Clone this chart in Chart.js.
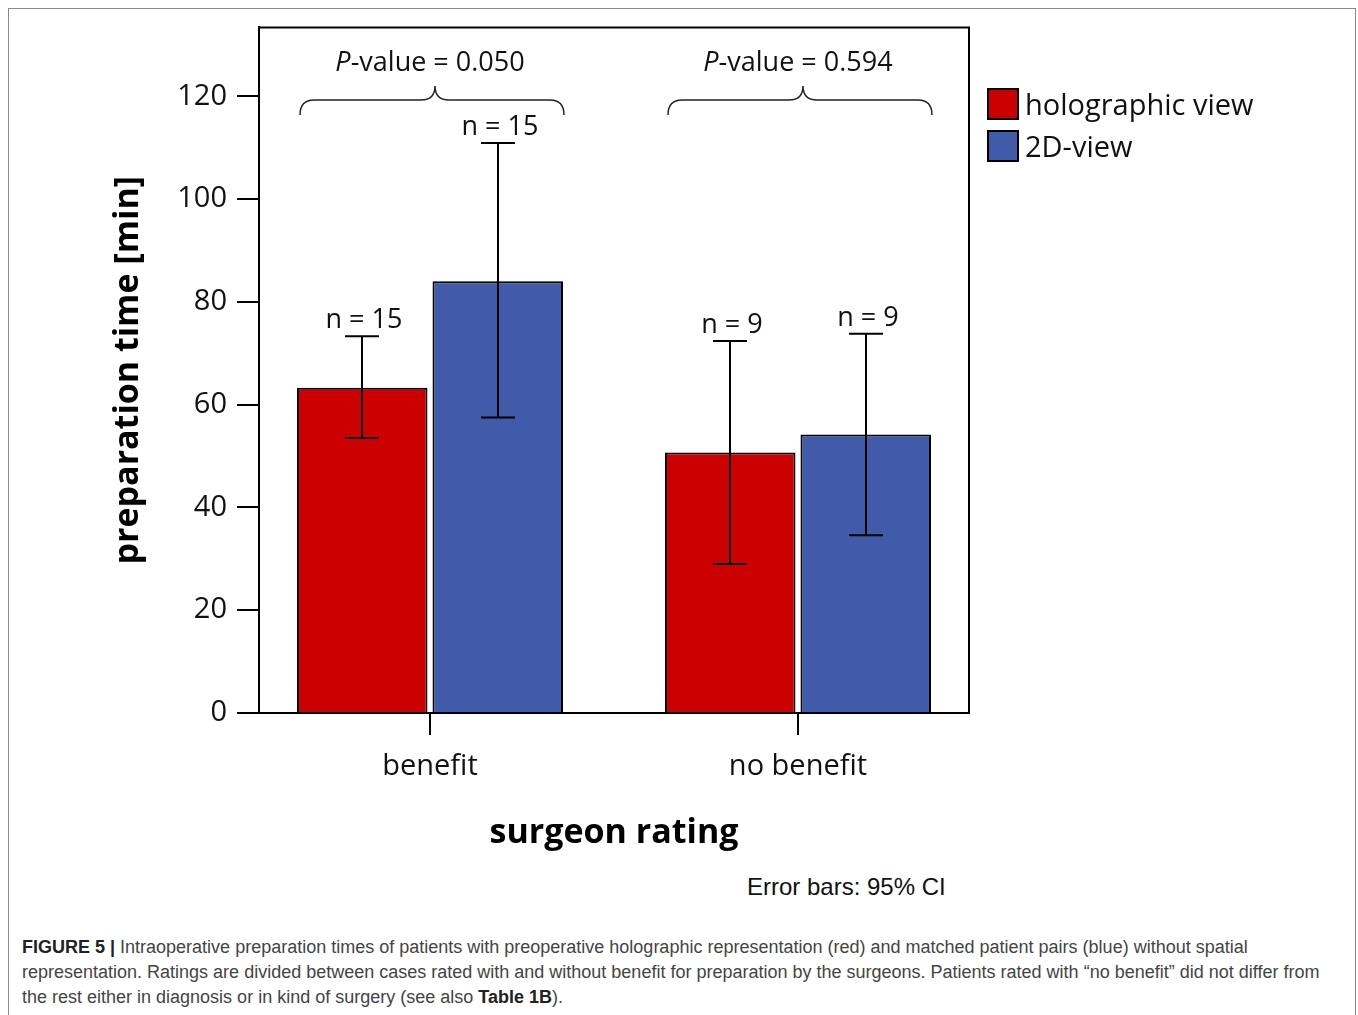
<!DOCTYPE html>
<html>
<head>
<meta charset="utf-8">
<script src="https://cdn.jsdelivr.net/npm/chart.js@4/dist/chart.umd.min.js"></script>
<style>
  html, body { margin: 0; padding: 0; background: #fff; overflow: hidden; }
  body { width: 1358px; height: 1015px; position: relative; }
  #frame { position: absolute; left: 8px; top: 8px; width: 1346px; height: 1100px; border: 1.5px solid #8a8a8a; }
  #chart { position: absolute; left: 0; top: 0; }
  #note { position: absolute; left: 747px; top: 873px; font: 24px "Liberation Sans", Arial, sans-serif; color: #111; white-space: nowrap; }
  #caption { position: absolute; left: 22px; top: 935px; font: 18px "Liberation Sans", Arial, sans-serif; color: #444; line-height: 25px; white-space: nowrap; }
  #caption b { color: #222; }
</style>
</head>
<body>
<div id="frame"></div>
<canvas id="chart" width="1358" height="870"></canvas>
<div id="note">Error bars: 95% CI</div>
<div id="caption">
  <div><b>FIGURE 5 |</b> Intraoperative preparation times of patients with preoperative holographic representation (red) and matched patient pairs (blue) without spatial</div>
  <div>representation. Ratings are divided between cases rated with and without benefit for preparation by the surgeons. Patients rated with “no benefit” did not differ from</div>
  <div>the rest either in diagnosis or in kind of surgery (see also <b>Table 1B</b>).</div>
</div>
<script>
// Surgeon rating groups and series
const categories = ['benefit', 'no benefit'];
const seriesNames = ['holographic view', '2D-view'];
const holographicMean = [63.3, 50.7];
const twoDMean = [84.0, 54.2];
// 95% confidence intervals [low, high]
const holographicCI = [[53.5, 73.3], [29.0, 72.4]];
const twoDCI = [[57.5, 110.9], [34.6, 73.8]];
// group sizes
const holographicN = [15, 9];
const twoDN = [15, 9];
// P-values of group comparisons
const pValues = ['0.050', '0.594'];
const yTicks = [0, 20, 40, 60, 80, 100, 120];

const RED = '#cc0000';
const BLUE = '#3f5ba9';
const FONT = '"Open Sans", "DejaVu Sans", sans-serif';

const ciSets = [holographicCI, twoDCI];
const nSets = [holographicN, twoDN];

// Error bars with sample size labels
const errorBarPlugin = {
  id: 'errorBars',
  afterDatasetsDraw(chart) {
    const ctx = chart.ctx;
    const y = chart.scales.y;
    ctx.save();
    ctx.strokeStyle = '#000';
    ctx.lineWidth = 2;
    ctx.fillStyle = '#111';
    ctx.font = '27px ' + FONT;
    ctx.textAlign = 'center';
    ctx.textBaseline = 'alphabetic';
    chart.data.datasets.forEach((ds, di) => {
      const meta = chart.getDatasetMeta(di);
      meta.data.forEach((bar, i) => {
        const [lo, hi] = ciSets[di][i];
        const yl = y.getPixelForValue(lo);
        const yh = y.getPixelForValue(hi);
        const x = Math.round(bar.x);
        ctx.beginPath();
        ctx.moveTo(x, yl); ctx.lineTo(x, yh);
        ctx.moveTo(x - 17, yl); ctx.lineTo(x + 17, yl);
        ctx.moveTo(x - 17, yh); ctx.lineTo(x + 17, yh);
        ctx.stroke();
        ctx.fillText('n = ' + nSets[di][i], x + 2, yh - 8);
      });
    });
    ctx.restore();
  }
};

// Frame, P-value braces and legend
const decorPlugin = {
  id: 'decor',
  afterDraw(chart) {
    const ctx = chart.ctx;
    const a = chart.chartArea;
    const xs = chart.scales.x;
    ctx.save();
    // top and right edges of the plot box
    ctx.strokeStyle = '#000';
    ctx.lineWidth = 2;
    ctx.beginPath();
    ctx.moveTo(a.left, a.top); ctx.lineTo(a.right, a.top); ctx.lineTo(a.right, a.bottom);
    ctx.stroke();

    // braces with P-values over each group
    ctx.lineWidth = 1.5;
    ctx.strokeStyle = '#222';
    pValues.forEach((p, i) => {
      const cx = xs.getPixelForValue(i);
      const x0 = cx - 130;
      const x1 = cx + 134;
      const xc = cx + 5;
      const yb = 100, ye = 115, yt = 86, r = 14;
      ctx.beginPath();
      ctx.moveTo(x0, ye);
      ctx.quadraticCurveTo(x0, yb, x0 + r, yb);
      ctx.lineTo(xc - r, yb);
      ctx.quadraticCurveTo(xc, yb, xc, yt);
      ctx.quadraticCurveTo(xc, yb, xc + r, yb);
      ctx.lineTo(x1 - r, yb);
      ctx.quadraticCurveTo(x1, yb, x1, ye);
      ctx.stroke();

      const italic = 'italic 27px ' + FONT;
      const normal = '27px ' + FONT;
      const rest = '-value = ' + p;
      ctx.font = italic; const wP = ctx.measureText('P').width;
      ctx.font = normal; const wR = ctx.measureText(rest).width;
      const sx = cx - (wP + wR) / 2;
      ctx.fillStyle = '#111';
      ctx.textAlign = 'left';
      ctx.textBaseline = 'alphabetic';
      ctx.font = italic; ctx.fillText('P', sx, 71);
      ctx.font = normal; ctx.fillText(rest, sx + wP, 71);
    });

    // legend
    ctx.font = '29px ' + FONT;
    ctx.textBaseline = 'alphabetic';
    chart.data.datasets.forEach((ds, i) => {
      const top = 88 + i * 42;
      ctx.fillStyle = ds.backgroundColor;
      ctx.fillRect(987, top, 32, 32);
      ctx.strokeStyle = '#000';
      ctx.lineWidth = 2;
      ctx.strokeRect(988, top + 1, 30, 30);
      ctx.fillStyle = '#111';
      ctx.fillText(ds.label, 1025, top + 27);
    });
    ctx.restore();
  }
};

new Chart(document.getElementById('chart'), {
  type: 'bar',
  data: {
    datasets: [
      {
        label: seriesNames[0],
        data: holographicMean.map((v, i) => ({ x: i, y: v })),
        backgroundColor: RED,
        borderColor: '#000',
        borderWidth: 2
      },
      {
        label: seriesNames[1],
        data: twoDMean.map((v, i) => ({ x: i, y: v })),
        backgroundColor: BLUE,
        borderColor: '#000',
        borderWidth: 2
      }
    ]
  },
  options: {
    responsive: false,
    animation: false,
    devicePixelRatio: 1,
    categoryPercentage: 0.7364,
    barPercentage: 0.963,
    layout: { padding: { left: 0, top: 26, right: 389, bottom: 0 } },
    plugins: {
      legend: { display: false },
      tooltip: { enabled: false }
    },
    scales: {
      x: {
        type: 'linear',
        offset: false,
        min: -0.4647,
        max: 1.4647,
        afterBuildTicks(scale) { scale.ticks = categories.map((c, i) => ({ value: i })); },
        afterFit(scale) { scale.height = 157; },
        ticks: {
          callback: (v) => categories[v],
          font: { family: FONT, size: 29 },
          color: '#111',
          padding: 14,
          maxRotation: 0,
          autoSkip: false
        },
        grid: { offset: false, drawOnChartArea: false, drawTicks: true, tickLength: 22, color: '#000', lineWidth: 2 },
        border: { display: true, color: '#000', width: 2 },
        title: {
          display: true,
          text: 'surgeon rating',
          font: { family: FONT, size: 34, weight: 'bold' },
          color: '#000',
          padding: { top: 0, bottom: 16 }
        }
      },
      y: {
        min: 0,
        max: 133.4,
        afterBuildTicks(scale) { scale.ticks = yTicks.map(v => ({ value: v })); },
        afterFit(scale) { scale.width = 259; },
        ticks: {
          font: { family: FONT, size: 29 },
          color: '#111',
          padding: 10
        },
        grid: { drawOnChartArea: false, drawTicks: true, tickLength: 22, color: '#000', lineWidth: 2 },
        border: { display: true, color: '#000', width: 2 },
        title: {
          display: true,
          text: 'preparation time [min]',
          font: { family: FONT, size: 34, weight: 'bold' },
          color: '#000',
          padding: { top: 108, bottom: 0 }
        }
      }
    }
  },
  plugins: [errorBarPlugin, decorPlugin]
});
</script>
</body>
</html>
